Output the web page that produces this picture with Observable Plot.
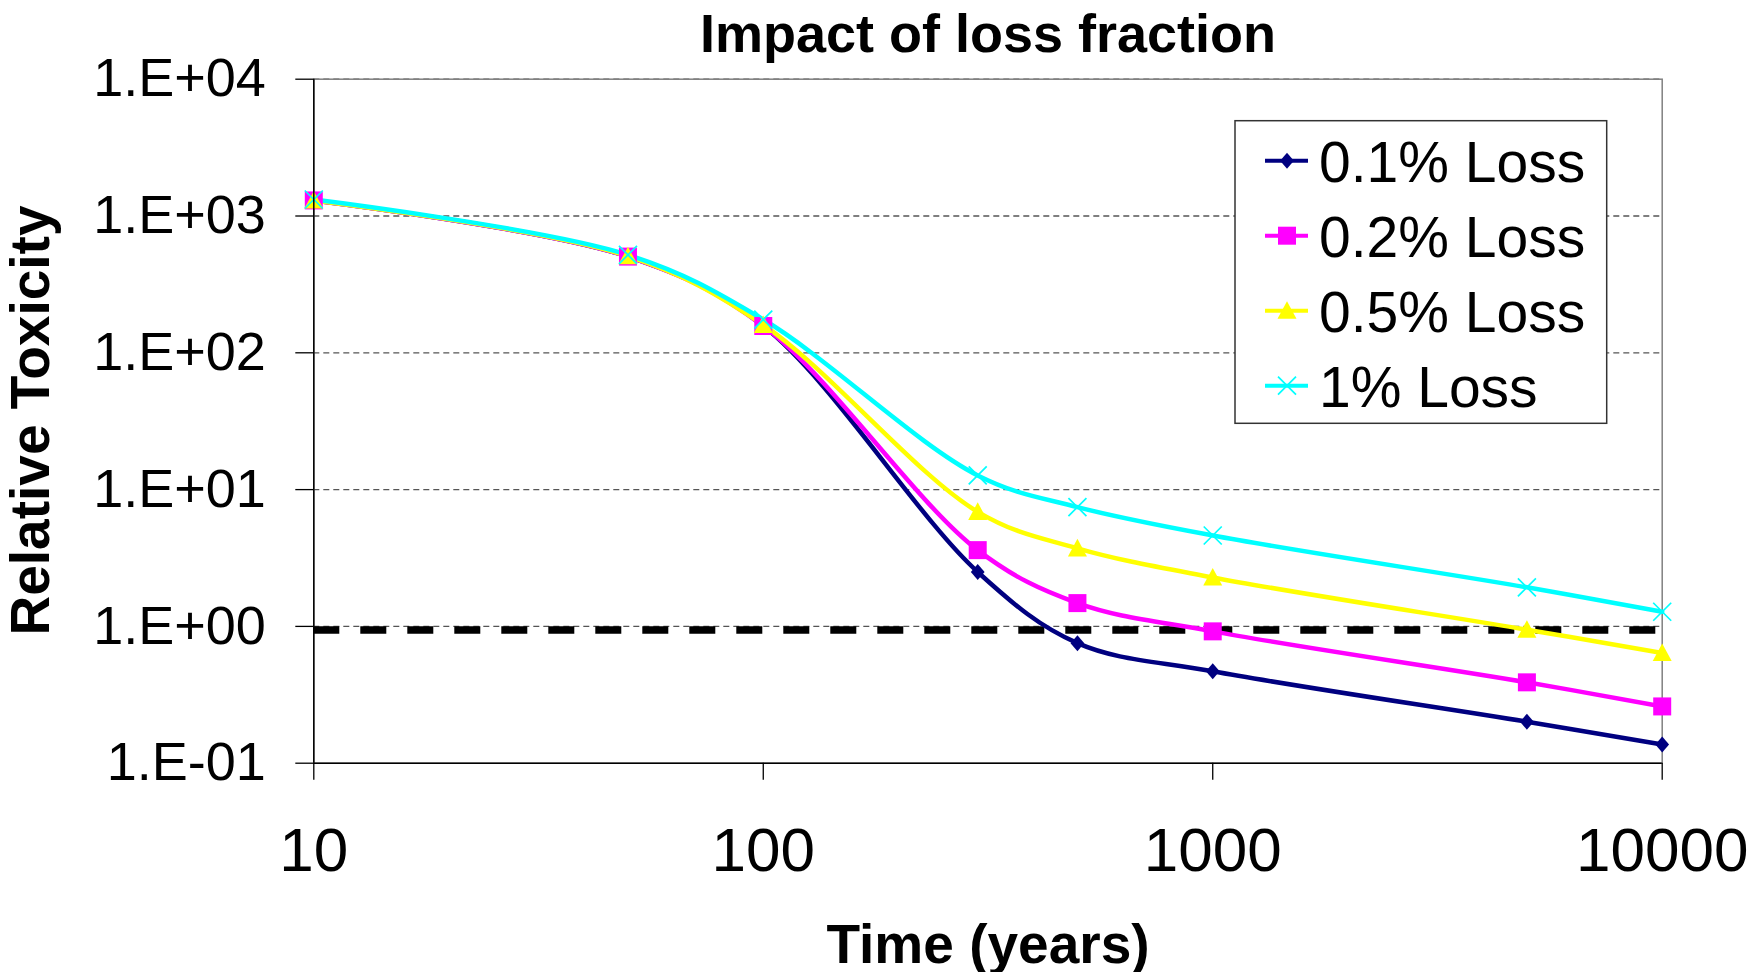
<!DOCTYPE html>
<html>
<head>
<meta charset="utf-8">
<script src="https://cdn.jsdelivr.net/npm/d3@7"></script>
<script src="https://cdn.jsdelivr.net/npm/@observablehq/plot@0.6"></script>
<style>
  html, body { margin: 0; padding: 0; background: #fff; }
  #chart { width: 1756px; height: 972px; }
</style>
</head>
<body>
<div id="chart"></div>
<script>
// ---- data ----
const times = [10, 50, 100, 300, 500, 1000, 5000, 10000];
const loss01 = [1300, 505, 157, 2.50, 0.754, 0.47, 0.201, 0.137];
const loss02 = [1300, 505, 157, 3.61, 1.48, 0.92, 0.39, 0.26];
const loss05 = [1300, 508, 160, 6.88, 3.72, 2.28, 0.946, 0.64];
const loss1  = [1320, 520, 175, 12.7, 7.45, 4.62, 1.93, 1.28];
const seriesNames = ["0.1% Loss", "0.2% Loss", "0.5% Loss", "1% Loss"];
const seriesValues = [loss01, loss02, loss05, loss1];
const threshold = [0.94];
const xTicks = [10, 100, 1000, 10000];
const xTickLabels = ["10", "100", "1000", "10000"];
const yTicks = [0.1, 1, 10, 100, 1000, 10000];
const yTickLabels = ["1.E-01", "1.E+00", "1.E+01", "1.E+02", "1.E+03", "1.E+04"];
const titleText = "Impact of loss fraction";
const xLabel = "Time (years)";
const yLabel = "Relative Toxicity";

// ---- styles ----
const colors = ["#000080", "#FF00FF", "#FFFF00", "#00FFFF"];
const FONT = "'Liberation Sans', Arial, Helvetica, sans-serif";

// custom marker symbols (radius = half extent)
const symDiamond = {draw(ctx, size) {const h = Math.sqrt(size / Math.PI); ctx.moveTo(0, -h); ctx.lineTo(h * 0.86, 0); ctx.lineTo(0, h); ctx.lineTo(-h * 0.86, 0); ctx.closePath();}};
const symSquare = {draw(ctx, size) {const h = Math.sqrt(size / Math.PI); ctx.rect(-h, -h, 2 * h, 2 * h);}};
const symTriangle = {draw(ctx, size) {const h = Math.sqrt(size / Math.PI); ctx.moveTo(0, -h); ctx.lineTo(h, h * 0.85); ctx.lineTo(-h, h * 0.85); ctx.closePath();}};
const symX = {draw(ctx, size) {const h = Math.sqrt(size / Math.PI); ctx.moveTo(-h, -h); ctx.lineTo(h, h); ctx.moveTo(h, -h); ctx.lineTo(-h, h);}};
const symbols = [symDiamond, symSquare, symTriangle, symX];
const symR = [8, 9, 9.5, 9];
const symFilled = [true, true, true, false];

const rows = [];
seriesNames.forEach((name, i) => seriesValues[i].forEach((v, j) => rows.push({series: name, k: i, time: times[j], value: v})));

const W = 1756, H = 972;
const mL = 313.3, mR = 94.3, mT = 78.7, mB = 209.3;

const lineMarks = seriesNames.map((name, i) =>
  Plot.line(rows.filter(d => d.k === i), {x: "time", y: "value", stroke: colors[i], strokeWidth: 4.5, curve: "catmull-rom"}));
const dotMarks = seriesNames.map((name, i) =>
  Plot.dot(rows.filter(d => d.k === i), {x: "time", y: "value", r: symR[i], symbol: symbols[i],
    fill: symFilled[i] ? colors[i] : "none", stroke: symFilled[i] ? "none" : colors[i], strokeWidth: 1.7}));

const plot = Plot.plot({
  width: W, height: H,
  marginLeft: mL, marginRight: mR, marginTop: mT, marginBottom: mB,
  style: {fontFamily: FONT, color: "#000", background: "#fff", overflow: "visible"},
  x: {type: "log", domain: [10, 10000]},
  y: {type: "log", domain: [0.1, 10000]},
  marks: [
    Plot.ruleY(yTicks.slice(1), {stroke: "#555", strokeWidth: 1.3, strokeDasharray: "6,4"}),
    Plot.frame({stroke: "#808080", strokeWidth: 1.5}),
    Plot.ruleY(threshold, {stroke: "#000", strokeWidth: 7.5, strokeDasharray: "26,21"}),
    ...lineMarks,
    ...dotMarks,
    Plot.ruleX([10], {stroke: "#000", strokeWidth: 1.5}),
    Plot.ruleY([0.1], {stroke: "#000", strokeWidth: 1.5}),
    Plot.axisY({ticks: yTicks, tickFormat: d => yTickLabels[yTicks.indexOf(d)], tickSize: 18, tickPadding: 30,
      fontSize: 54, label: null, stroke: "#000", strokeWidth: 1.3}),
    Plot.axisX({ticks: xTicks, tickFormat: d => xTickLabels[xTicks.indexOf(d)], tickSize: 17, tickPadding: 47,
      fontSize: 62, label: null, stroke: "#000", strokeWidth: 1.3}),
    Plot.text([titleText], {frameAnchor: "top", lineAnchor: "bottom", dy: -27, fontSize: 54, fontWeight: "bold", fill: "#000"}),
    Plot.text([xLabel], {frameAnchor: "bottom", lineAnchor: "bottom", dy: 200, fontSize: 55, fontWeight: "bold", fill: "#000"})
  ]
});

const svg = d3.select(plot.tagName.toLowerCase() === "svg" ? plot : plot.querySelector("svg"));

// ---- y axis title ----
svg.append("text").attr("transform", "translate(49,420.5) rotate(-90)")
  .attr("text-anchor", "middle").attr("font-family", FONT).attr("font-size", 55).attr("font-weight", "bold")
  .attr("fill", "#000").text(yLabel);

// ---- legend drawn inside the SVG ----
const lg = svg.append("g").attr("font-family", FONT).attr("text-anchor", "start");
lg.append("rect").attr("x", 1235).attr("y", 120.7).attr("width", 371.7).attr("height", 302.6)
  .attr("fill", "#fff").attr("stroke", "#333").attr("stroke-width", 1.5);
seriesNames.forEach((name, i) => {
  const base = 181.7 + i * 75;
  const cy = base - 21;
  lg.append("line").attr("x1", 1265).attr("x2", 1308).attr("y1", cy).attr("y2", cy)
    .attr("stroke", colors[i]).attr("stroke-width", 4);
  const p = d3.path();
  symbols[i].draw(p, Math.PI * symR[i] * symR[i]);
  lg.append("path").attr("d", p.toString()).attr("transform", `translate(1287,${cy})`)
    .attr("fill", symFilled[i] ? colors[i] : "none").attr("stroke", symFilled[i] ? "none" : colors[i]).attr("stroke-width", 1.7);
  lg.append("text").attr("x", 1319).attr("y", base).attr("text-anchor", "start")
    .attr("font-size", 57).attr("fill", "#000").text(name);
});

document.getElementById("chart").appendChild(plot);
</script>
</body>
</html>
